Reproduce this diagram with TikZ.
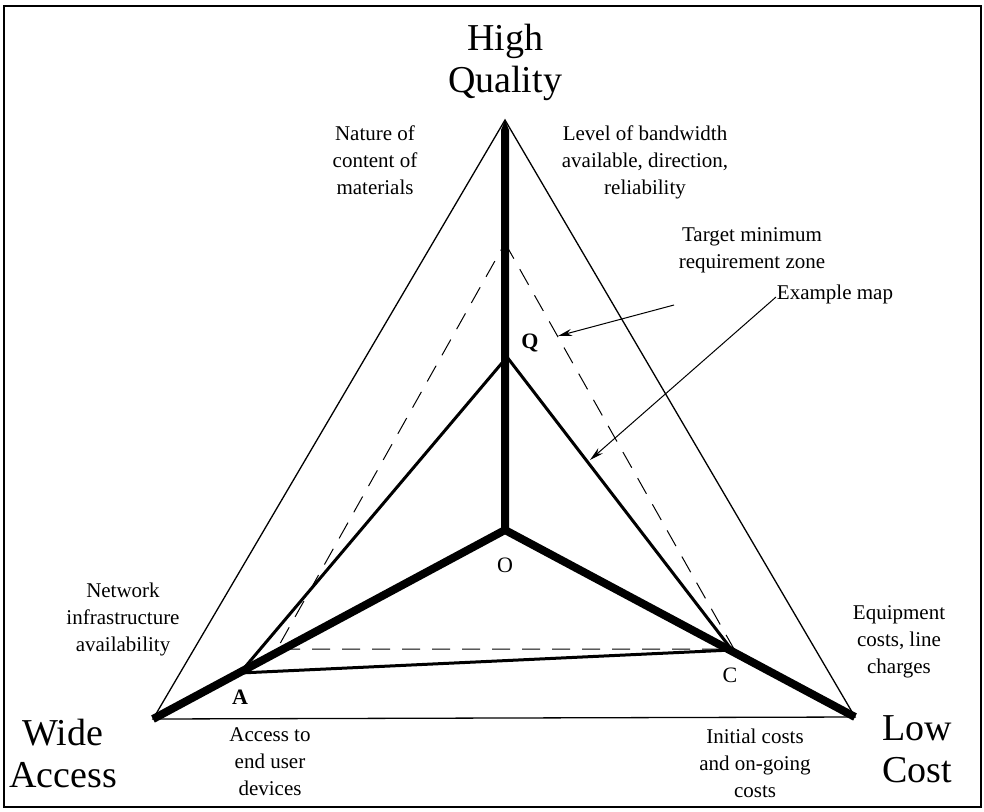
\documentclass[tikz,border=0pt]{standalone}
\usepackage{fontspec}
\setmainfont{Liberation Serif}
\usetikzlibrary{arrows.meta}
\begin{document}
\begin{tikzpicture}[x=1pt,y=-1pt,
  frame/.style={line width=1.2pt},
  outer/.style={line width=1.3pt, line join=miter},
  spoke/.style={line width=8pt, line cap=butt},
  maptri/.style={line width=3pt, line join=miter},
  zone/.style={line width=1pt, dash pattern=on 18pt off 12pt},
  pointer/.style={line width=1pt, -{Stealth[length=14pt,width=7pt]}},
  biglabel/.style={font=\fontsize{38}{42}\selectfont, align=center, inner sep=0pt},
  smalllabel/.style={font=\fontsize{21}{27}\selectfont, align=center, inner sep=0pt},
  vertexlabel/.style={font=\fontsize{22}{24}\selectfont, inner sep=0pt}]
\useasboundingbox (0,0) rectangle (984,811);
\draw[frame] (4,6) rectangle (981,807);

% corners of the quality / access / cost triangle
\coordinate (T) at (505,120);
\coordinate (L) at (153,719);
\coordinate (R) at (855,717);
\coordinate (O) at (505,530);
% example map
\coordinate (Q) at (507,357);
\coordinate (A) at (240,673);
\coordinate (C) at (732,650);
% target minimum requirement zone
\coordinate (ZT) at (505,243);
\coordinate (ZL) at (277,649);
\coordinate (ZR) at (734,649);

\draw[outer] (T) -- (L) -- (R) -- cycle;
\draw[zone] (ZT) -- (ZR) -- (ZL) -- cycle;
\draw[maptri] (Q) -- (C) -- (A) -- cycle;
% quality spoke, tapering into the apex
\fill ([xshift=-4pt]O) -- ([xshift=-4pt,yshift=-10pt]T) -- (T) -- ([xshift=4pt,yshift=-10pt]T) -- ([xshift=4pt]O) -- cycle;
\draw[spoke, line join=miter] (L) -- (O) -- (R);

% axis names (anchored on the baseline of the last line)
\node[biglabel, anchor=base] (hq) at (505,92) {High\\Quality};
\node[biglabel, anchor=base] (wa) at (63,787) {Wide\\Access};
\node[biglabel, anchor=base] (lc) at (917,782) {Low\\Cost};

% factor notes
\node[smalllabel, anchor=base] (nat) at (375,194) {Nature of\\content of\\materials};
\node[smalllabel, anchor=base] (lev) at (645,194) {Level of bandwidth\\available, direction,\\reliability};
\node[smalllabel, anchor=base] (net) at (123,651) {Network\\infrastructure\\availability};
\node[smalllabel, anchor=base] (equ) at (899,673) {Equipment\\costs, line\\charges};
\node[smalllabel, anchor=base] (acc) at (270,795) {Access to\\end user\\devices};
\node[smalllabel, anchor=base] (ini) at (755,797) {Initial costs\\and on-going\\costs};
\node[smalllabel, anchor=base] (tgt) at (752,268) {Target minimum\\requirement zone};
\node[smalllabel, anchor=base] (ex) at (835,299) {Example map};

% vertex letters
\node[vertexlabel, font=\fontsize{22}{24}\selectfont\bfseries] (lq) at (530,343) {Q};
\node[vertexlabel] (lo) at (505,565) {O};
\node[vertexlabel, font=\fontsize{22}{24}\selectfont\bfseries] (la) at (240,697) {A};
\node[vertexlabel] (lcc) at (730,675) {C};

% pointers
\coordinate (tgttail) at (674,305);
\coordinate (tgttip) at (558,336);
\coordinate (extail) at (776,297);
\coordinate (extip) at (590,460);
\draw[pointer] (tgttail) -- (tgttip);
\draw[pointer] (extail) -- (extip);
\end{tikzpicture}
\end{document}
